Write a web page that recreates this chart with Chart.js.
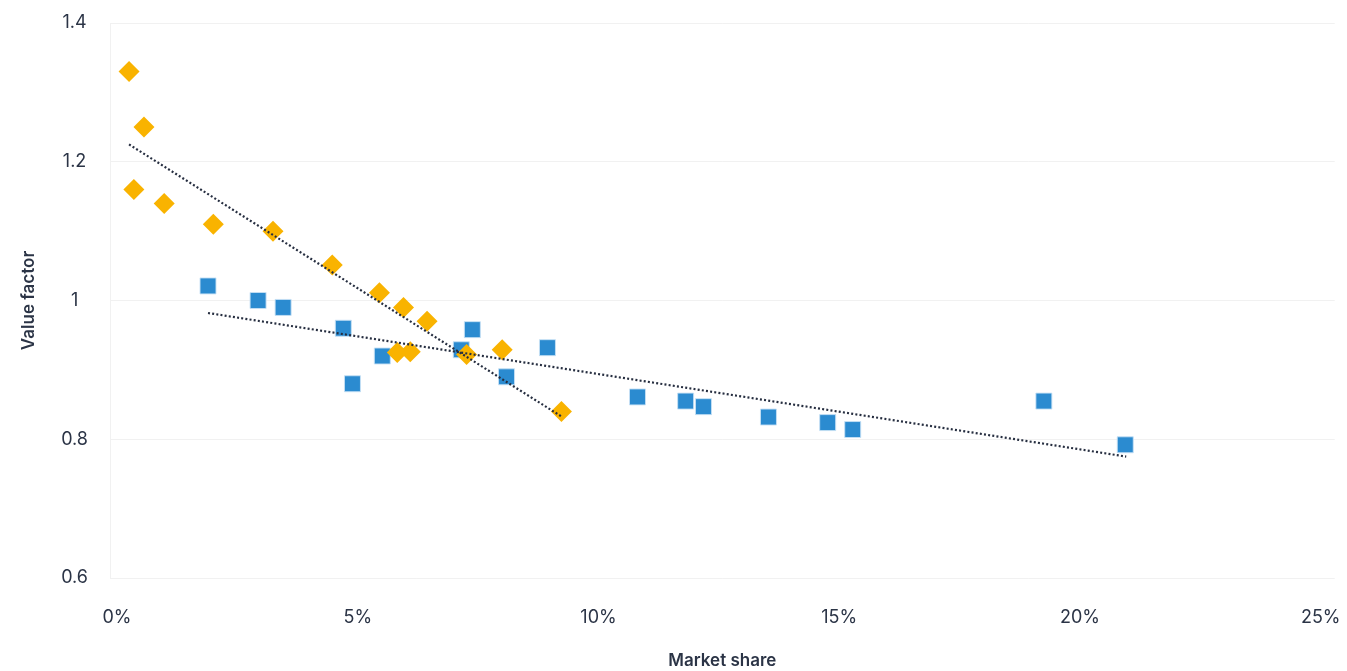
<!DOCTYPE html>
<html>
<head>
<meta charset="utf-8">
<title>Value factor vs market share</title>
<script src="https://cdn.jsdelivr.net/npm/chart.js@4.4.1/dist/chart.umd.min.js"></script>
<style>
  html, body { margin: 0; padding: 0; background: #fff; overflow: hidden; }
  canvas { display: block; }
</style>
</head>
<body>
<canvas id="chart" width="1347" height="671"></canvas>
<script>
// Blue series (squares): market share in %, value factor
const blueShare = [1.89, 2.93, 3.45, 4.70, 4.89, 5.51, 7.15, 7.38, 8.09, 8.94, 10.81, 11.81, 12.18, 13.53, 14.76, 15.28, 19.25, 20.94];
const blueValue = [1.021, 1.000, 0.990, 0.960, 0.880, 0.920, 0.929, 0.958, 0.890, 0.932, 0.861, 0.855, 0.847, 0.832, 0.824, 0.814, 0.855, 0.792];

// Orange series (diamonds)
const orangeShare = [0.25, 0.56, 0.35, 0.98, 2.00, 3.24, 4.47, 5.45, 5.95, 6.44, 5.82, 6.09, 7.26, 8.00, 9.23];
const orangeValue = [1.330, 1.250, 1.160, 1.140, 1.110, 1.100, 1.051, 1.011, 0.990, 0.970, 0.925, 0.926, 0.922, 0.929, 0.840];

// Trend line end points
const blueTrendShare = [1.89, 20.96];
const blueTrendValue = [0.982, 0.775];
const orangeTrendShare = [0.25, 9.25];
const orangeTrendValue = [1.225, 0.832];

// Axis ticks
const xTicks = [0, 5, 10, 15, 20, 25];
const yTicks = [0.6, 0.8, 1.0, 1.2, 1.4];

const toPoints = (xs, ys) => xs.map((x, i) => ({ x: x, y: ys[i] }));

const textColor = '#2b3446';
const fontFamily = 'Inter, "Open Sans", sans-serif';

const trendStyle = {
  type: 'line',
  showLine: true,
  borderColor: '#262e40',
  borderWidth: 2.2,
  borderDash: [2, 2.2],
  pointRadius: 0,
  fill: false,
  order: 0
};

new Chart(document.getElementById('chart'), {
  type: 'scatter',
  data: {
    datasets: [
      Object.assign({ label: 'Orange trend', data: toPoints(orangeTrendShare, orangeTrendValue) }, trendStyle),
      Object.assign({ label: 'Blue trend', data: toPoints(blueTrendShare, blueTrendValue) }, trendStyle),
      {
        label: 'Orange',
        data: toPoints(orangeShare, orangeValue),
        pointStyle: 'rectRot',
        pointRadius: 10.5,
        backgroundColor: '#f9b300',
        borderColor: '#f9b300',
        borderWidth: 0,
        order: 1
      },
      {
        label: 'Blue',
        data: toPoints(blueShare, blueValue),
        pointStyle: 'rect',
        pointRadius: 11.3,
        backgroundColor: '#2b8bd0',
        borderColor: 'rgba(200, 225, 245, 0.9)',
        borderWidth: 1,
        order: 2
      }
    ]
  },
  options: {
    responsive: false,
    animation: false,
    layout: { padding: { left: 0, right: 0, top: 23, bottom: 0 } },
    plugins: {
      legend: { display: false },
      tooltip: { enabled: false }
    },
    scales: {
      x: {
        type: 'linear',
        min: -0.1455,
        max: 25.29,
        afterBuildTicks: scale => { scale.ticks = xTicks.map(v => ({ value: v })); },
        afterFit: scale => {
          scale.height = 93;
          scale.paddingLeft = 0;
          scale.paddingRight = 0;
        },
        grid: { display: false, drawTicks: false },
        border: { display: false },
        ticks: {
          padding: 29,
          color: textColor,
          font: { family: fontFamily, size: 18 },
          maxRotation: 0,
          callback: v => v + '%'
        },
        title: {
          display: true,
          text: 'Market share',
          color: textColor,
          font: { family: fontFamily, size: 17, weight: '600' },
          padding: { top: 10, bottom: 0 }
        }
      },
      y: {
        min: 0.6,
        max: 1.4,
        afterBuildTicks: scale => { scale.ticks = yTicks.map(v => ({ value: v })); },
        afterFit: scale => {
          scale.width = 110;
          scale.paddingTop = 0;
          scale.paddingBottom = 0;
        },
        grid: { color: '#f1f1f1', lineWidth: 1, drawTicks: false },
        border: { display: true, color: '#f1f1f1' },
        ticks: {
          padding: 22,
          crossAlign: 'center',
          color: textColor,
          font: { family: fontFamily, size: 18 },
          callback: v => String(Number(v.toFixed(1)))
        },
        title: {
          display: true,
          text: 'Value factor',
          color: textColor,
          font: { family: fontFamily, size: 17, weight: '600' },
          padding: { top: 19, bottom: 0 }
        }
      }
    }
  }
});
</script>
</body>
</html>
